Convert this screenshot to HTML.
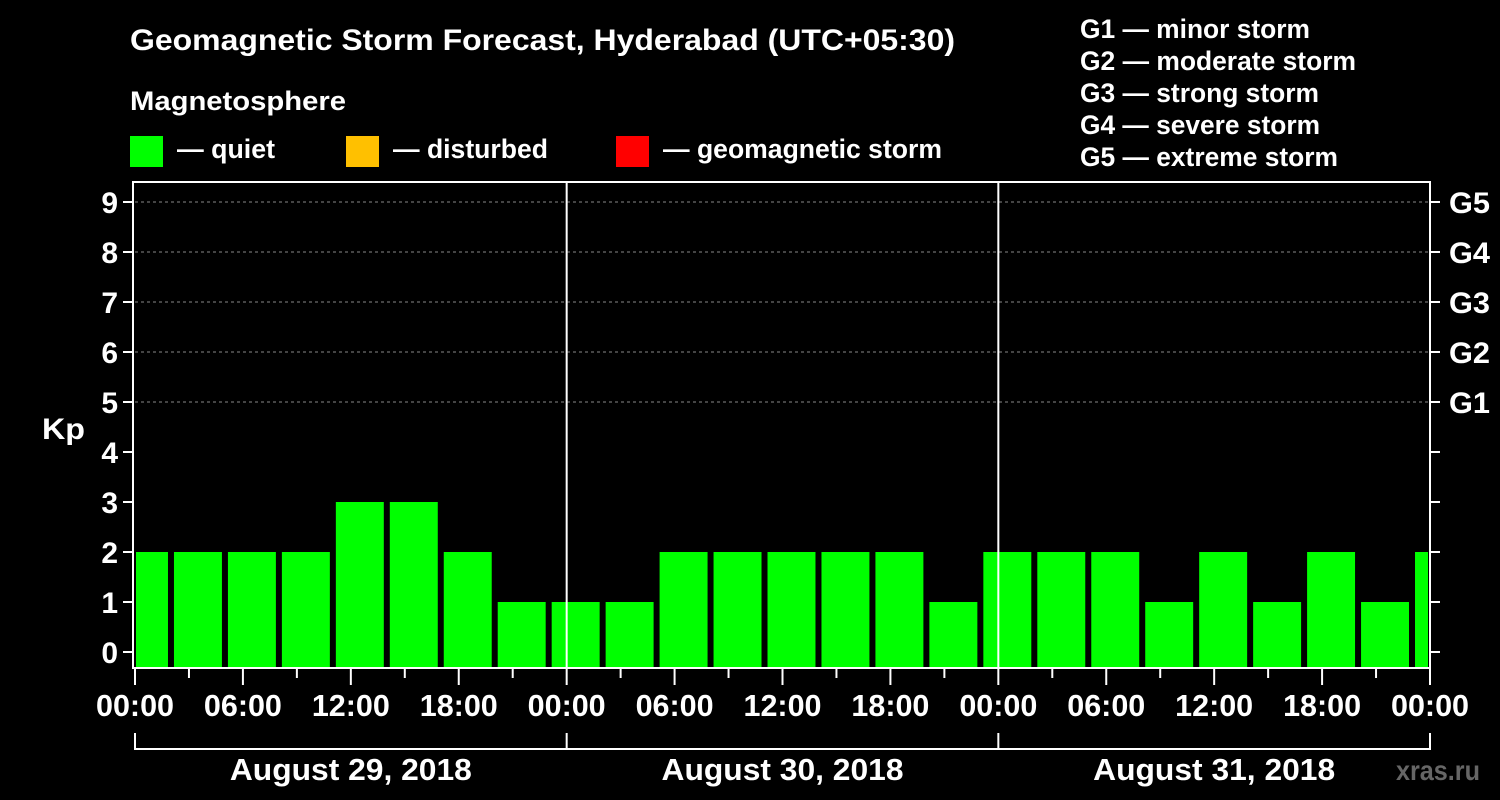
<!DOCTYPE html>
<html><head><meta charset="utf-8"><style>
body{margin:0;background:#000;width:1500px;height:800px;overflow:hidden}
svg{display:block;font-family:"Liberation Sans",Arial,sans-serif;font-weight:bold}
</style></head><body>
<svg id="c" width="1500" height="800">
<text x="130" y="50" fill="#fff" font-size="30" textLength="825" lengthAdjust="spacingAndGlyphs">Geomagnetic Storm Forecast, Hyderabad (UTC+05:30)</text>
<text x="130" y="110" fill="#fff" font-size="27" textLength="216" lengthAdjust="spacingAndGlyphs">Magnetosphere</text>
<rect x="130" y="136" width="33" height="31" fill="#00ff00"/>
<text x="177" y="158" fill="#fff" font-size="27" textLength="98" lengthAdjust="spacingAndGlyphs">— quiet</text>
<rect x="346" y="136" width="33" height="31" fill="#ffc000"/>
<text x="393" y="158" fill="#fff" font-size="27" textLength="155" lengthAdjust="spacingAndGlyphs">— disturbed</text>
<rect x="616" y="136" width="33" height="31" fill="#ff0000"/>
<text x="663" y="158" fill="#fff" font-size="27" textLength="279" lengthAdjust="spacingAndGlyphs">— geomagnetic storm</text>
<g fill="#fff" font-size="27">
<text x="1080" y="38" textLength="230" lengthAdjust="spacingAndGlyphs">G1 — minor storm</text>
<text x="1080" y="70" textLength="276" lengthAdjust="spacingAndGlyphs">G2 — moderate storm</text>
<text x="1080" y="102" textLength="239" lengthAdjust="spacingAndGlyphs">G3 — strong storm</text>
<text x="1080" y="134" textLength="240" lengthAdjust="spacingAndGlyphs">G4 — severe storm</text>
<text x="1080" y="166" textLength="258" lengthAdjust="spacingAndGlyphs">G5 — extreme storm</text>
</g>
<text x="42" y="439" fill="#fff" font-size="30" textLength="43" lengthAdjust="spacingAndGlyphs">Kp</text>
<text x="1396" y="780" fill="#666" font-size="28" textLength="84" lengthAdjust="spacingAndGlyphs">xras.ru</text>
<g id="g"></g>
</svg>
<script>
const kpValues=[2,2,2,2,3,3,2,1,1,1,2,2,2,2,2,1,2,2,2,1,2,1,2,1,2];
const dayLabels=["August 29, 2018","August 30, 2018","August 31, 2018"];
const hourLabels=["00:00","06:00","12:00","18:00"];
const gLabels=["G1","G2","G3","G4","G5"];
const L=135,R=1430,T=182,B=668;
const hx=h=>L+h*(R-L)/72;
const ky=v=>652-v*50;
const g=document.getElementById('g');
const NS='http://www.w3.org/2000/svg';
function mk(t,a){const e=document.createElementNS(NS,t);for(const k in a)e.setAttribute(k,a[k]);g.appendChild(e);return e;}
kpValues.forEach((v,i)=>{
 let x0=hx(i*3-0.8333),x1=hx(i*3+1.8333);
 x0=Math.max(x0,L+1);x1=Math.min(x1,R-2);
 const r=mk('rect',{x:x0,y:ky(v),width:x1-x0,height:B-ky(v),fill:'#00ff00'});
 
 
});
for(let v=5;v<=9;v++){const l=mk('line',{x1:L,x2:R,y1:ky(v),y2:ky(v),stroke:'#888','stroke-dasharray':'3,3'});
 
 }
for(let d=1;d<3;d++){const l=mk('line',{x1:hx(d*24),x2:hx(d*24),y1:T,y2:B,stroke:'#fff','stroke-width':2});
 
 }
const fr=mk('rect',{x:L-2,y:T,width:R-L+2,height:B-T,fill:'none',stroke:'#fff','stroke-width':2});


for(let v=0;v<=9;v++){
 mk('line',{x1:L-12,x2:L-2,y1:ky(v),y2:ky(v),stroke:'#fff','stroke-width':2});
 mk('line',{x1:R,x2:R+10,y1:ky(v),y2:ky(v),stroke:'#fff','stroke-width':2});
 const t=mk('text',{x:L-17,y:ky(v)+11,fill:'#fff','font-size':30,'text-anchor':'end'});t.textContent=v;
 
 
}
gLabels.forEach((s,i)=>{const t=mk('text',{x:R+19,y:ky(5+i)+11,fill:'#fff','font-size':30,textLength:41,lengthAdjust:'spacingAndGlyphs'});t.textContent=s;
 
 });
for(let h=0;h<=72;h+=3){
 mk('line',{x1:hx(h),x2:hx(h),y1:B,y2:h%6?B+10:B+17,stroke:'#fff','stroke-width':2});
 if(h%6==0){const t=mk('text',{x:hx(h)-39,y:716,fill:'#fff','font-size':31,textLength:78,lengthAdjust:'spacingAndGlyphs'});t.textContent=hourLabels[(h/6)%4];
 
 }
}
mk('line',{x1:L,x2:R,y1:749,y2:749,stroke:'#fff','stroke-width':2});
for(let d=0;d<=3;d++)mk('line',{x1:hx(d*24),x2:hx(d*24),y1:733,y2:750,stroke:'#fff','stroke-width':2});
dayLabels.forEach((s,d)=>{const t=mk('text',{x:hx(d*24+12)-121,y:780,fill:'#fff','font-size':31,textLength:242,lengthAdjust:'spacingAndGlyphs'});t.textContent=s;
 
 });
</script>
</body></html>
